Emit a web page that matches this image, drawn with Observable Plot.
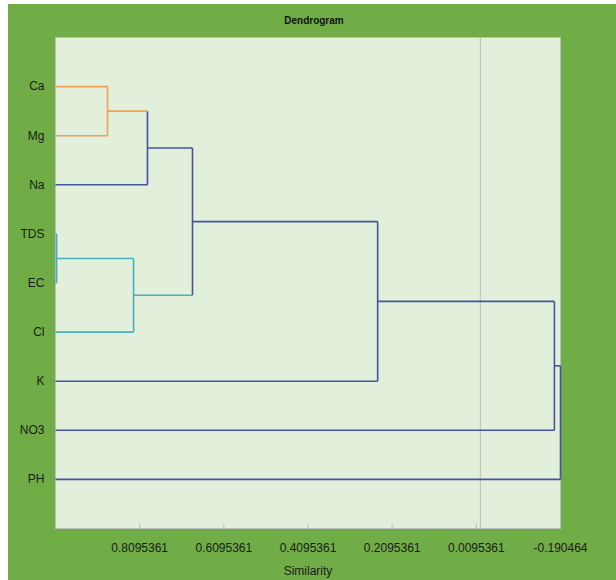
<!DOCTYPE html>
<html>
<head>
<meta charset="utf-8">
<script src="https://cdn.jsdelivr.net/npm/d3@7"></script>
<script src="https://cdn.jsdelivr.net/npm/@observablehq/plot@0.6"></script>
<style>
  html, body { margin: 0; padding: 0; background: #fff; }
  #wrap { position: relative; width: 616px; height: 580px; overflow: hidden; }
  #bg { position: absolute; left: 8px; top: 4px; width: 608px; height: 576px; background: #70AD47; }
  #title { position: absolute; left: 8px; width: 612px; top: 15px; text-align: center;
           font: bold 10px "Liberation Sans", sans-serif; color: #111; }
  #chart { position: absolute; left: 0; top: 0; }
</style>
</head>
<body>
<div id="wrap">
  <div id="bg"></div>
  <div id="title">Dendrogram</div>
  <div id="chart"></div>
</div>
<script>
// Leaves (top to bottom) and their clusters
const leaves = ["Ca", "Mg", "Na", "TDS", "EC", "Cl", "K", "NO3", "PH"];
const leafCluster = ["A", "A", "C", "B", "B", "B", "C", "C", "C"];
// Merges: node ids 0..8 are leaves, merge k gets id 9+k
const mergeLeft  = [0, 3, 9, 10, 11, 13, 14, 15];
const mergeRight = [1, 4, 2, 5, 12, 6, 7, 8];
const mergeSimilarity = [0.886, 1.007, 0.791, 0.824, 0.684, 0.244, -0.176, -0.190464];
const mergeCluster = ["A", "B", "C", "B", "C", "C", "C", "C"];
// Axis
const xTicks = [0.8095361, 0.6095361, 0.4095361, 0.2095361, 0.0095361, -0.190464];
const xMax = 1.0095361, xMin = -0.190464;
const zeroLine = [0];

// Build node positions (data units)
const nodes = leaves.map((name, i) => ({x: xMax, y: i + 1, cluster: leafCluster[i]}));
mergeLeft.forEach((l, k) => {
  const r = mergeRight[k];
  nodes.push({x: mergeSimilarity[k], y: (nodes[l].y + nodes[r].y) / 2, cluster: mergeCluster[k]});
});
const segs = [];
mergeLeft.forEach((l, k) => {
  const r = mergeRight[k];
  const m = nodes[9 + k];
  segs.push({x1: m.x, x2: m.x, y1: nodes[l].y, y2: nodes[r].y, cluster: m.cluster});
  for (const c of [l, r]) {
    segs.push({x1: nodes[c].x, x2: m.x, y1: nodes[c].y, y2: nodes[c].y, cluster: nodes[c].cluster});
  }
});

const chart = Plot.plot({
  width: 616,
  height: 580,
  marginLeft: 55,
  marginRight: 56,
  marginTop: 37,
  marginBottom: 52,
  style: {background: "transparent", fontFamily: "Liberation Sans, sans-serif", fontSize: "12px", color: "#1a1a1a"},
  x: {domain: [xMax, xMin]},
  y: {domain: [10, 0]},
  color: {domain: ["A", "B", "C"], range: ["#F59E55", "#4BACC6", "#4653A0"]},
  marks: [
    Plot.frame({fill: "#E2EFDA", stroke: "#BFBFBF"}),
    Plot.ruleX(zeroLine, {x: d => d, stroke: "#BFBFBF", strokeWidth: 1}),
    Plot.ruleX(xTicks, {x: d => d, y1: 10, y2: 9.9, stroke: "#BFBFBF"}),
    Plot.link(segs, {x1: "x1", y1: "y1", x2: "x2", y2: "y2", stroke: "cluster", strokeWidth: 1.6}),
    Plot.axisX({ticks: xTicks, tickFormat: d => String(d), tickSize: 0, tickPadding: 15,
                label: "Similarity", labelAnchor: "center", labelArrow: false, labelOffset: 46, fontSize: 12}),
    Plot.axisY({ticks: leaves.map((d, i) => i + 1), tickFormat: i => leaves[i - 1], tickSize: 0,
                tickPadding: 11, label: null, fontSize: 12})
  ]
});
document.getElementById("chart").appendChild(chart);
</script>
</body>
</html>
